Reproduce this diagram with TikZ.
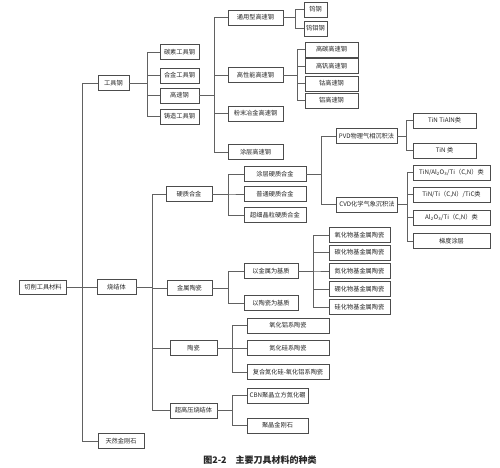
\documentclass[tikz,border=0pt]{standalone}
\usepackage{fontspec}
\newfontfamily\cjk{Noto Sans CJK SC}
\begin{document}
\begin{tikzpicture}[x=1pt,y=-1pt,
  box/.style={draw=black!70, line width=0.75pt, fill=white, minimum height=15, inner sep=1pt,
    font=\cjk\fontsize{6.2}{7}\selectfont, text=black!85},
  link/.style={draw=black!62, line width=0.6pt},
  lbl/.style={font=\cjk\fontsize{9}{10}\selectfont, text=black!85}]
\useasboundingbox[fill=white] (0,0) rectangle (500,467);
% buses
\coordinate (bT) at (82,0);
\coordinate (bG) at (147,0);
\coordinate (bH) at (214,0);
\coordinate (bTy) at (295,0);
\coordinate (bGx) at (297,0);
\coordinate (bS) at (152,0);
\coordinate (bY) at (228,0);
\coordinate (bC) at (321,0);
\coordinate (bP) at (406,0);
\coordinate (bV) at (407,0);
\coordinate (bJ) at (228,0);
\coordinate (bM) at (313,0);
\coordinate (bK) at (232,0);
\coordinate (bU) at (232,0);
% level 0/1
\node[box, minimum width=47, minimum height=14] (root) at (43,287) {切削工具材料};
\node[box, minimum width=31] (gjg) at (113.5,83) {工具钢};
\node[box, minimum width=39] (sjt) at (116.5,287) {烧结体};
\node[box, minimum width=46] (trj) at (121,441) {天然金刚石};
% tool steel
\node[box, minimum width=39] (ts) at (179.5,52) {碳素工具钢};
\node[box, minimum width=39] (hj) at (179.5,75.5) {合金工具钢};
\node[box, minimum width=39] (gs) at (179.5,95.5) {高速钢};
\node[box, minimum width=39] (zz) at (179.5,116.5) {铸造工具钢};
% HSS
\node[box, minimum width=55] (ty) at (255.5,17.5) {通用型高速钢};
\node[box, minimum width=55] (gx) at (255.5,75) {高性能高速钢};
\node[box, minimum width=55] (fm) at (255.5,113.5) {粉末冶金高速钢};
\node[box, minimum width=55] (tg) at (255.5,152) {涂层高速钢};
\node[box, minimum width=23] (wg) at (315.5,9.5) {钨钢};
\node[box, minimum width=23] (wm) at (315.5,28.5) {钨钼钢};
\node[box, minimum width=53] (g1) at (331.5,49.5) {高碳高速钢};
\node[box, minimum width=53] (g2) at (331.5,66) {高钒高速钢};
\node[box, minimum width=53] (g3) at (331.5,83.5) {钴高速钢};
\node[box, minimum width=53] (g4) at (331.5,100.5) {铝高速钢};
% sintered
\node[box, minimum width=46] (yz) at (189,194) {硬质合金};
\node[box, minimum width=45] (js) at (189.5,288) {金属陶瓷};
\node[box, minimum width=47] (tc) at (193.5,348) {陶瓷};
\node[box, minimum width=47] (cg) at (193.5,410.5) {超高压烧结体};
% cemented carbide
\node[box, minimum width=62] (ty1) at (275,174) {涂层硬质合金};
\node[box, minimum width=62] (pt) at (275,194) {普通硬质合金};
\node[box, minimum width=62] (cx) at (275,215) {超细晶粒硬质合金};
\node[box, minimum width=61] (pvd) at (366.5,136) {PVD物理气相沉积法};
\node[box, minimum width=61] (cvd) at (367,204.5) {CVD化学气象沉积法};
\node[box, minimum width=63] (t1) at (444.5,120.5) {TiN TiAlN类};
\node[box, minimum width=63] (t2) at (444.5,150.5) {TiN 类};
\node[box, minimum width=77] (c1) at (451.5,172.5) {TiN/Al\textsubscript{2}O\textsubscript{3}/Ti（C,N）类};
\node[box, minimum width=77] (c2) at (451.5,194.5) {TiN/Ti（C,N）/TiC类};
\node[box, minimum width=77] (c3) at (451.5,217.5) {Al\textsubscript{2}O\textsubscript{3}/Ti（C,N）类};
\node[box, minimum width=77] (c4) at (451.5,241) {梯度涂层};
% cermet
\node[box, minimum width=54] (yj) at (271,271) {以金属为基质};
\node[box, minimum width=54] (yt) at (271,303) {以陶瓷为基质};
\node[box, minimum width=61] (m1) at (359.5,235) {氧化物基金属陶瓷};
\node[box, minimum width=61] (m2) at (359.5,252.5) {碳化物基金属陶瓷};
\node[box, minimum width=61] (m3) at (359.5,271) {氮化物基金属陶瓷};
\node[box, minimum width=61] (m4) at (359.5,289) {硼化物基金属陶瓷};
\node[box, minimum width=61] (m5) at (359.5,307) {硅化物基金属陶瓷};
% ceramics
\node[box, minimum width=82] (k1) at (288,325.5) {氧化铝系陶瓷};
\node[box, minimum width=82] (k2) at (288,348) {氮化硅系陶瓷};
\node[box, minimum width=82] (k3) at (288,372) {复合氮化硅-氧化铝系陶瓷};
% superhard
\node[box, minimum width=61] (u1) at (277.5,395.5) {CBN聚晶立方氮化硼};
\node[box, minimum width=61] (u2) at (277.5,425.5) {聚晶金刚石};
% caption
\node[lbl] (cap) at (260,460) {\bfseries 图2-2\quad 主要刀具材料的种类};
% connectors
\draw[link] (root.east) -- (sjt.west);
\draw[link] (gjg.west) -| (bT |- trj.west) -- (trj.west);
\foreach \c in {ts,hj,gs,zz} \draw[link] (gjg.east) -- (gjg.east -| bG) |- (\c.west);
\foreach \c in {ty,gx,fm,tg} \draw[link] (gs.east) -- (gs.east -| bH) |- (\c.west);
\foreach \c in {wg,wm} \draw[link] (ty.east) -- (ty.east -| bTy) |- (\c.west);
\foreach \c in {g1,g2,g3,g4} \draw[link] (gx.east) -- (gx.east -| bGx) |- (\c.west);
\foreach \c in {yz,js,tc,cg} \draw[link] (sjt.east) -- (sjt.east -| bS) |- (\c.west);
\foreach \c in {ty1,pt,cx} \draw[link] (yz.east) -- (yz.east -| bY) |- (\c.west);
\foreach \c in {pvd,cvd} \draw[link] (ty1.east) -- (ty1.east -| bC) |- (\c.west);
\foreach \c in {t1,t2} \draw[link] (pvd.east) -- (pvd.east -| bP) |- (\c.west);
\foreach \c in {c1,c2,c3,c4} \draw[link] (cvd.east) -- (cvd.east -| bV) |- (\c.west);
\foreach \c in {yj,yt} \draw[link] (js.east) -- (js.east -| bJ) |- (\c.west);
\foreach \c in {m1,m2,m3,m4,m5} \draw[link] (yj.east) -- (yj.east -| bM) |- (\c.west);
\foreach \c in {k1,k2,k3} \draw[link] (tc.east) -- (tc.east -| bK) |- (\c.west);
\foreach \c in {u1,u2} \draw[link] (cg.east) -- (cg.east -| bU) |- (\c.west);
\end{tikzpicture}
\end{document}
